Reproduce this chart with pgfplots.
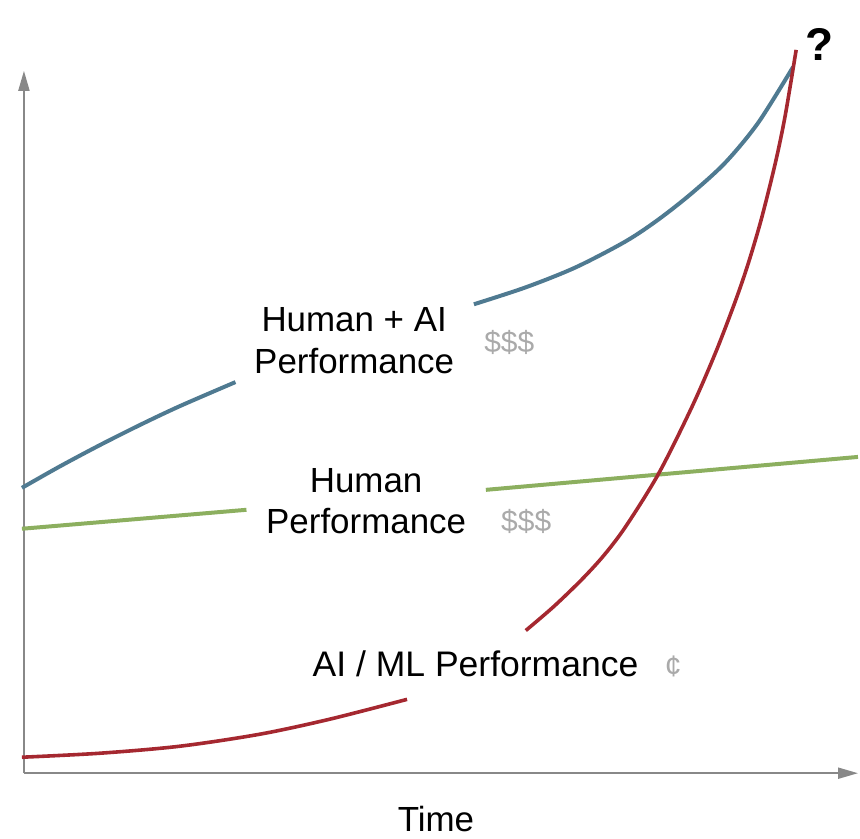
\documentclass[border=0pt]{standalone}
\usepackage{fontspec}
\setmainfont{Liberation Sans}
\usepackage{pgfplots}
\pgfplotsset{compat=1.18}
\usetikzlibrary{arrows.meta}
\definecolor{hblue}{RGB}{79,122,145}
\definecolor{aired}{RGB}{165,40,48}
\definecolor{hgreen}{RGB}{140,175,95}
\definecolor{axisgray}{RGB}{136,136,136}
\definecolor{dollar}{RGB}{170,170,170}
\begin{document}
\begin{tikzpicture}
\begin{axis}[
  x=0.5pt, y=0.5pt,
  xmin=24, xmax=860, ymin=63, ymax=767,
  axis lines=left,
  xtick=\empty, ytick=\empty,
  axis line style={draw=axisgray, line width=1pt, -{Triangle[length=10pt,width=5.5pt]}},
  clip=false,
]
\path (axis cs:0,0) rectangle (axis cs:860,838);
% Human + AI
\addplot[hblue, line width=2pt, smooth] coordinates {(22,349) (60,370.5) (100,391.8) (140,411.9) (180,430.8) (236,455)};
\addplot[hblue, line width=2pt, smooth] coordinates {(475,533) (527,550) (577,570) (627,596) (660,618) (693,644) (727,675) (760,715) (795,771)};
% Human
\addplot[hgreen, line width=2pt] coordinates {(22,308) (247,327)};
\addplot[hgreen, line width=2pt] coordinates {(487,347) (860,380)};
% AI / ML
\addplot[aired, line width=1.8pt, smooth] coordinates {(22,79) (100,83) (180,90) (260,102) (330,117) (408,137)};
\addplot[aired, line width=1.8pt, smooth] coordinates {(527,206) (555,230) (583,257) (605,281) (627,310) (660,363) (693,429) (717,484) (737,536) (750,574) (763,618) (777,674) (787,722) (798,788)};
% labels
\node[anchor=base, font=\fontsize{17.5}{21}\selectfont] at (axis cs:355,506) {Human + AI};
\node[anchor=base, font=\fontsize{17.5}{21}\selectfont] at (axis cs:355,464) {Performance};
\node[anchor=base west, text=dollar, inner sep=0pt, font=\fontsize{15}{18}\selectfont] at (axis cs:485,485) {\$\$\$};
\node[anchor=base, font=\fontsize{17.5}{21}\selectfont] at (axis cs:367,344) {Human};
\node[anchor=base, font=\fontsize{17.5}{21}\selectfont] at (axis cs:367,303) {Performance};
\node[anchor=base west, text=dollar, inner sep=0pt, font=\fontsize{15}{18}\selectfont] at (axis cs:502,305) {\$\$\$};
\node[anchor=base west, inner sep=0pt, font=\fontsize{17.8}{21}\selectfont] at (axis cs:313,160) {AI / ML Performance};
\node[anchor=base west, text=dollar, inner sep=0pt, font=\fontsize{15}{18}\selectfont] at (axis cs:666,160) {¢};
\node[anchor=base, font=\fontsize{17.5}{21}\selectfont] at (axis cs:437,5) {Time};
\node[anchor=base, font=\bfseries\fontsize{23}{26}\selectfont] at (axis cs:821,777) {?};
\end{axis}
\end{tikzpicture}
\end{document}
